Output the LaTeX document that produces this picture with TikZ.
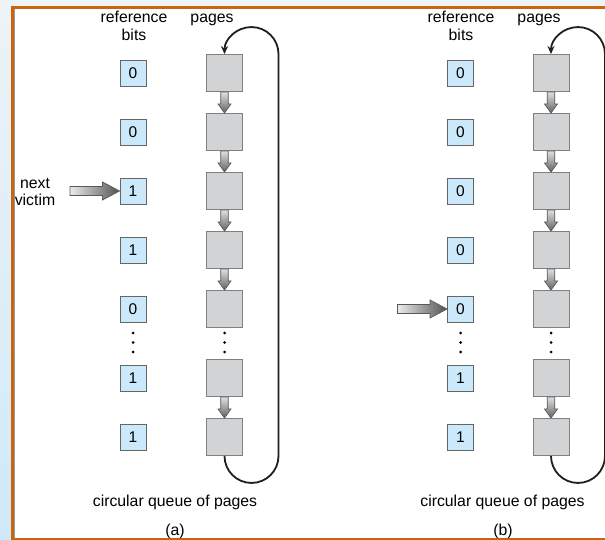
\documentclass[tikz,border=0pt]{standalone}
\usepackage{fontspec}
\setmainfont{Liberation Sans}
\usetikzlibrary{calc,arrows.meta}

\definecolor{frameorange}{HTML}{C9650C}
\definecolor{bitfill}{HTML}{CBE9FB}
\definecolor{bitline}{HTML}{666666}
\definecolor{pagefill}{HTML}{D1D3D4}
\definecolor{pageline}{HTML}{808080}
\definecolor{stripblue}{HTML}{CFE9FB}
\definecolor{striptop}{HTML}{EEF3F6}

\tikzset{
  bitbox/.style={draw=bitline, line width=0.9pt, fill=bitfill, minimum width=26pt,
    minimum height=26pt, inner sep=0pt, font=\fontsize{15.5}{17}\selectfont},
  pagebox/.style={draw=pageline, line width=0.9pt, fill=pagefill, minimum width=36pt,
    minimum height=37pt, inner sep=0pt},
  lbl/.style={font=\fontsize{15.8}{18}\selectfont, inner sep=0pt, anchor=base},
  pgarrow/.style={draw=black!65, line width=0.7pt, top color=black!12, bottom color=black!62},
  hpointer/.style={draw=black!65, line width=0.7pt, left color=black!8, right color=black!68},
  loopline/.style={draw=black!88, line width=1.8pt, -{Stealth[length=8pt,width=7pt]}},
  vdot/.style={fill=black, inner sep=0pt, minimum size=3pt, circle}
}

% block arrow from the bottom of one page to the top of the next
\newcommand\pgarrow[2]{%
  \path[pgarrow] ($(#1.south)+(-3.8,0)$) -- ($(#1.south)+(-3.8,12)$)
    -- ($(#1.south)+(-6.5,12)$) -- (#2.north) -- ($(#1.south)+(6.5,12)$)
    -- ($(#1.south)+(3.8,12)$) -- ($(#1.south)+(3.8,0)$) -- cycle;}

% horizontal pointer ending at the left side of a bit box
\newcommand\bitpointer[1]{%
  \path[hpointer] ($(#1.west)+(-49.5,-4.5)$) -- ($(#1.west)+(-17,-4.5)$)
    -- ($(#1.west)+(-17,-9)$) -- (#1.west) -- ($(#1.west)+(-17,9)$)
    -- ($(#1.west)+(-17,4.5)$) -- ($(#1.west)+(-49.5,4.5)$) -- cycle;}

\begin{document}
\begin{tikzpicture}[x=1pt,y=-1pt]
\path[use as bounding box] (0,0) rectangle (605,540);
\clip (0,0) rectangle (605,540);

% page background and frame
\fill[white] (0,0) rectangle (605,540);
\fill[striptop] (0,0) rectangle (605,6.5);
\shade[top color=striptop, bottom color=stripblue] (0,0) rectangle (11.5,540);

% ---------- panel (a) ----------
\node[lbl] (aRef) at (134,23) {reference};
\node[lbl] (aBits) at (134,41) {bits};
\node[lbl] (aPages) at (212,23) {pages};

\foreach \i/\y/\v in {1/73/0, 2/132/0, 3/191/1, 4/250/1, 5/309/0, 6/378/1, 7/437/1} {
  \node[bitbox] (aB\i) at (133,\y) {\v};
  \node[pagebox] (aP\i) at (224.5,\y) {};
}
\foreach \y in {333,342.5,352} {
  \node[vdot] at (133,\y) {};
  \node[vdot] at (224.5,\y) {};
}
\pgarrow{aP1}{aP2}
\pgarrow{aP2}{aP3}
\pgarrow{aP3}{aP4}
\pgarrow{aP4}{aP5}
\pgarrow{aP6}{aP7}

\coordinate (aLoopR) at ($(aP7.south)+(54,0)$);
\draw[loopline] (aP7.south) arc[start angle=180, end angle=0, radius=27]
  -- (aLoopR |- aP1.north) arc[start angle=0, end angle=-180, radius=27];

\node[lbl, align=center, anchor=center] (aNext) at (35,192)
  {next\\[-1pt]victim};
\bitpointer{aB3}

\node[lbl] (aCap) at (175,506.5) {circular queue of pages};
\node[lbl] (aTag) at (175,535.5) {(a)};

% ---------- panel (b) ----------
\node[lbl] (bRef) at (461,23) {reference};
\node[lbl] (bBits) at (461,41) {bits};
\node[lbl] (bPages) at (539,23) {pages};

\foreach \i/\y/\v in {1/73/0, 2/132/0, 3/191/0, 4/250/0, 5/309/0, 6/378/1, 7/437/1} {
  \node[bitbox] (bB\i) at (460.5,\y) {\v};
  \node[pagebox] (bP\i) at (551,\y) {};
}
\foreach \y in {333,342.5,352} {
  \node[vdot] at (460.5,\y) {};
  \node[vdot] at (551,\y) {};
}
\pgarrow{bP1}{bP2}
\pgarrow{bP2}{bP3}
\pgarrow{bP3}{bP4}
\pgarrow{bP4}{bP5}
\pgarrow{bP6}{bP7}

\coordinate (bLoopR) at ($(bP7.south)+(54,0)$);
\draw[loopline] (bP7.south) arc[start angle=180, end angle=0, radius=27]
  -- (bLoopR |- bP1.north) arc[start angle=0, end angle=-180, radius=27];

\bitpointer{bB5}

\node[lbl] (bCap) at (502.5,506.5) {circular queue of pages};
\node[lbl] (bTag) at (503,535.5) {(b)};

% frame lines drawn last
\draw[black!40, line width=1pt] (14.6,8.5) -- (14.6,538);
\draw[frameorange, line width=3pt] (11,7.3) -- (605,7.3);
\draw[frameorange, line width=3pt] (12.6,6) -- (12.6,540);
\draw[frameorange, line width=1.6pt] (11,538.8) -- (605,538.8);
\end{tikzpicture}
\end{document}
